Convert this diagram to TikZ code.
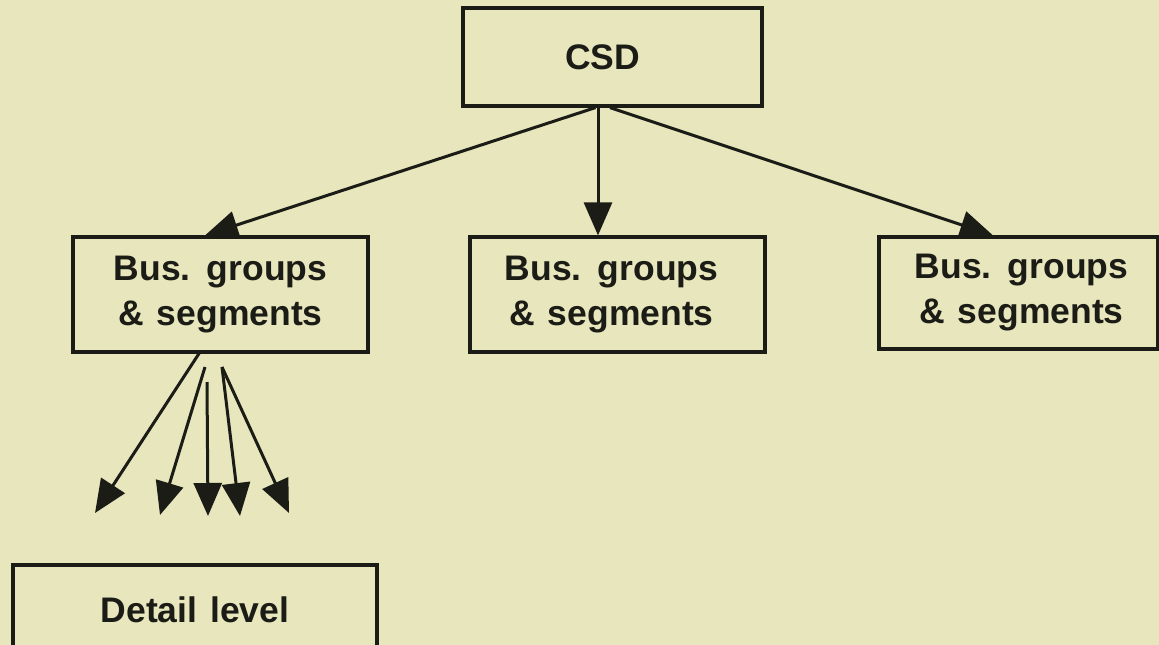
\documentclass[tikz,border=0pt]{standalone}
\usepackage{fontspec}
\newfontfamily\diagfont{Liberation Sans}[WordSpace=1.3]
\usetikzlibrary{arrows.meta}
\definecolor{paper}{RGB}{231,230,189}
\definecolor{ink}{RGB}{28,28,22}
\tikzset{
  box/.style={draw=ink, line width=3.2pt, text=ink, align=center, inner sep=0pt,
    font=\diagfont\bfseries\fontsize{35.5}{45}\selectfont},
  link/.style={draw=ink, line width=3pt, -{Triangle[length=33pt,width=28pt]}}
}
\begin{document}
\begin{tikzpicture}[x=1pt,y=-1pt]
\useasboundingbox (0,0) rectangle (1159,645);
\fill[paper] (0,0) rectangle (1159,645);
\clip (0,0) rectangle (1159,645);
\node[box, minimum width=299pt, minimum height=98pt] (csd) at (612.5,57) {CSD\hspace*{20pt}};
\node[box, minimum width=295pt, minimum height=115pt] (bl) at (220.5,294.5) {Bus. groups\\\& segments};
\node[box, minimum width=295pt, minimum height=115pt] (bm) at (617.5,294.5) {Bus. groups\hspace*{12pt}\\\& segments\hspace*{12pt}};
\node[box, minimum width=279pt, minimum height=112pt] (br) at (1018.5,293) {\hspace*{6pt}Bus. groups\\\hspace*{6pt}\& segments};
\node[box, minimum width=364pt, minimum height=90pt] (dl) at (195,610) {Detail level};
% connectors from CSD
\draw[link] ([xshift=-17pt]csd.south) -- ([xshift=-15.5pt]bl.north);
\draw[link] ([xshift=-14.5pt]csd.south) -- ([xshift=-19.5pt]bm.north);
\draw[link] ([xshift=-2.5pt]csd.south) -- ([xshift=-25.5pt]br.north);
% fan from left box
\coordinate (f1) at (200,352);
\coordinate (f2) at (205,367);
\coordinate (f3) at (207,382);
\coordinate (f4) at (222,367);
\coordinate (t1) at (95,513);
\coordinate (t2) at (160,515);
\coordinate (t3) at (208,516);
\coordinate (t4) at (240,516);
\coordinate (t5) at (289,513);
\draw[link] (f1) -- (t1);
\draw[link] (f2) -- (t2);
\draw[link] (f3) -- (t3);
\draw[link] (f4) -- (t4);
\draw[link] (f4) -- (t5);
\end{tikzpicture}
\end{document}
